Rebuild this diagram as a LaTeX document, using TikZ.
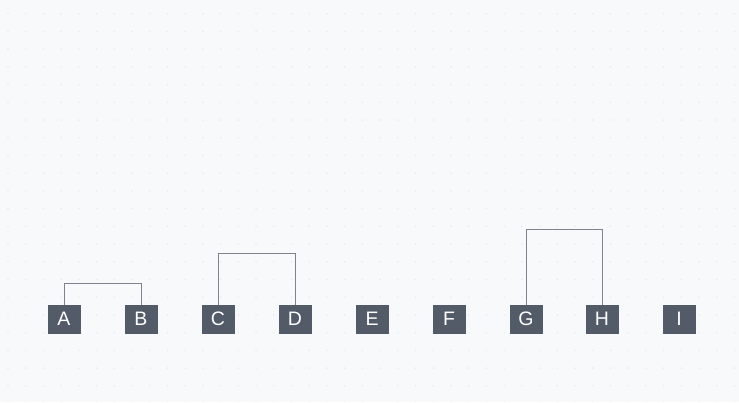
\documentclass[tikz,border=0pt]{standalone}
\usepackage{fontspec}
\setmainfont{Liberation Sans}
\definecolor{bg}{HTML}{F8F9FB}
\definecolor{dotc}{HTML}{E9EBEF}
\definecolor{boxc}{HTML}{535B69}
\definecolor{linec}{HTML}{7D838F}
\begin{document}
\begin{tikzpicture}[x=1pt,y=-1pt,
  leaf/.style={fill=boxc,draw=none,minimum width=33pt,minimum height=29pt,inner sep=0pt,text=white,font=\fontsize{19.5}{19.5}\selectfont},
  link/.style={draw=linec,line width=0.9pt}]
\fill[bg] (0,0) rectangle (739,402);
\useasboundingbox (0,0) rectangle (739,402);
\foreach \i in {0,...,41}{\foreach \j in {0,...,22}{
  \fill[dotc] (8+17.72*\i,13.7+17.72*\j) circle (0.9);}}
\foreach \n/\x in {A/64,B/141,C/218,D/295,E/372,F/449,G/526,H/602,I/679}{
  \node[leaf] (\n) at (\x,319.2) {\n};}
\coordinate (ab) at (0,283);
\coordinate (cd) at (0,253);
\coordinate (gh) at (0,229);
\draw[link] (A.north) -- (A.north |- ab) -- (B.north |- ab) -- (B.north);
\draw[link] (C.north) -- (C.north |- cd) -- (D.north |- cd) -- (D.north);
\draw[link] (G.north) -- (G.north |- gh) -- (H.north |- gh) -- (H.north);
\end{tikzpicture}
\end{document}
